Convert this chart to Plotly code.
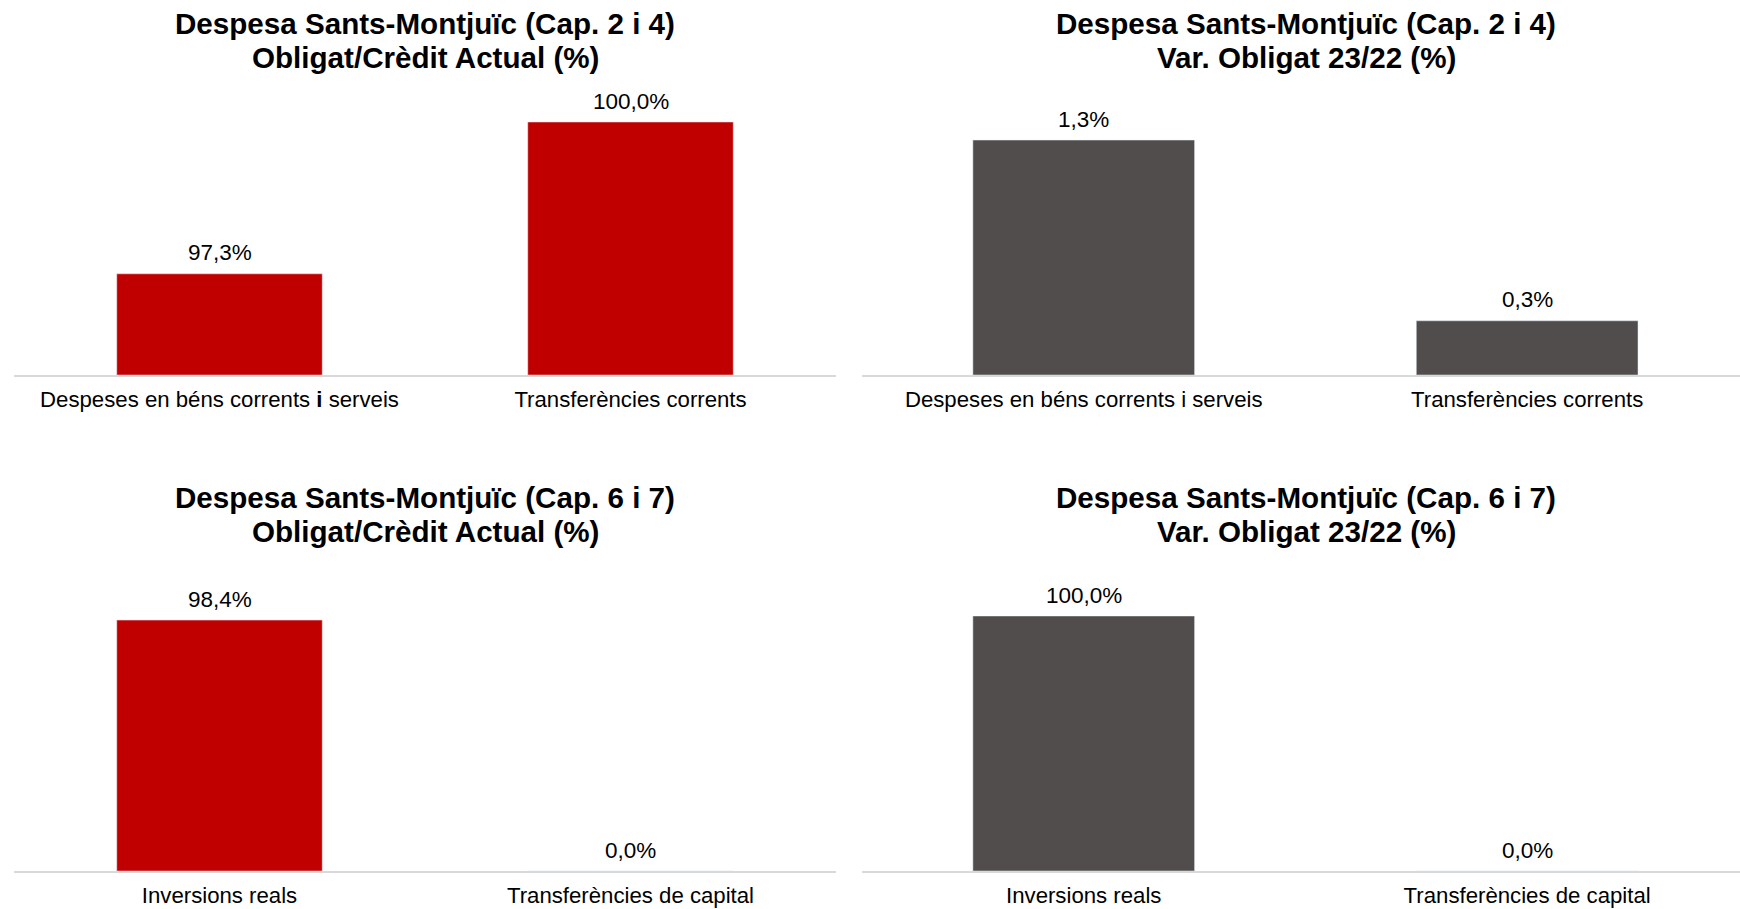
import plotly.graph_objects as go

W, H = 1740, 909

# ---- data ----
cats_top = ["Despeses en béns corrents i serveis", "Transferències corrents"]
cats_bottom = ["Inversions reals", "Transferències de capital"]
obligat_credit_24 = [97.3, 100.0]
var_obligat_24 = [1.3, 0.3]
obligat_credit_67 = [98.4, 0.0]
var_obligat_67 = [100.0, 0.0]

titles = [
    ["Despesa Sants-Montjuïc (Cap. 2 i 4)", "Obligat/Crèdit Actual (%)"],
    ["Despesa Sants-Montjuïc (Cap. 2 i 4)", "Var. Obligat 23/22 (%)"],
    ["Despesa Sants-Montjuïc (Cap. 6 i 7)", "Obligat/Crèdit Actual (%)"],
    ["Despesa Sants-Montjuïc (Cap. 6 i 7)", "Var. Obligat 23/22 (%)"],
]
y_ranges = [[95.5, 100], [0, 1.4], [0, 100], [0, 100]]
x_ranges = [[-0.5, 1.5], [-0.5, 1.48], [-0.5, 1.5], [-0.5, 1.48]]

RED = "#C00000"
GREY = "#504D4C"
FONT = "Liberation Sans, Arial, sans-serif"

panels = [
    (cats_top, obligat_credit_24, RED),
    (cats_top, var_obligat_24, GREY),
    (cats_bottom, obligat_credit_67, RED),
    (cats_bottom, var_obligat_67, GREY),
]

# pixel layout (page coords) of the plot areas (left, right, top, bottom)
boxes = [
    (14, 836, 122, 375),
    (862, 1740, 122, 375),
    (14, 836, 616, 871),
    (862, 1740, 616, 871),
]
title_cx = [425, 1306, 425, 1306]
title_cy = [(24, 58), (24, 58), (497, 531), (497, 531)]

fig = go.Figure()
annotations = []

def fmt(v):
    return f"{v:.1f}".replace(".", ",") + "%"

def px(v):
    return min(max(v / W, 0), 1)

def py(v):
    return min(max(1 - v / H, 0), 1)

for i, ((cats, vals, col), (l, r, t, b)) in enumerate(zip(panels, boxes)):
    n = "" if i == 0 else str(i + 1)
    xa, ya = "x" + n, "y" + n
    base = y_ranges[i][0]
    fig.add_trace(go.Bar(
        x=cats, y=[v - base for v in vals], base=base, marker_color=col,
        width=0.5, xaxis=xa, yaxis=ya, showlegend=False, hoverinfo="skip",
    ))
    ticktext = [c.replace("corrents i serveis", "corrents <b>i</b> serveis") if i == 0 else c for c in cats]
    fig.update_layout(**{
        ("xaxis" + n): dict(
            domain=[px(l), px(r)], anchor=ya, showline=True, linecolor="#D9D9D9",
            linewidth=2, showgrid=False, zeroline=False, ticks="",
            tickmode="array", tickvals=cats, ticktext=ticktext,
            range=x_ranges[i],
            tickfont=dict(family=FONT, size=22.2, color="#000000"),
            ticklabelstandoff=3,
            fixedrange=True,
        ),
        ("yaxis" + n): dict(
            domain=[py(b), py(t)], anchor=xa, range=y_ranges[i],
            showgrid=False, zeroline=False, showticklabels=False, showline=False,
            fixedrange=True,
        ),
    })
    for c, v in zip(cats, vals):
        annotations.append(dict(
            x=c, y=v, xref=xa, yref=ya, text=fmt(v), showarrow=False,
            yanchor="middle", xanchor="center", yshift=21,
            font=dict(family=FONT, size=22.5, color="#000000"),
        ))
    for line, cy in zip(titles[i], title_cy[i]):
        annotations.append(dict(
            x=px(title_cx[i]), y=py(cy), xref="paper", yref="paper",
            text="<b>" + line + "</b>", showarrow=False,
            xanchor="center", yanchor="middle",
            font=dict(family=FONT, size=29.6, color="#000000"),
        ))

fig.update_layout(
    width=W, height=H, margin=dict(l=0, r=0, t=0, b=0),
    paper_bgcolor="white", plot_bgcolor="white",
    annotations=annotations, bargap=0.5,
)

fig.write_html(
    "out.html",
    config={"displayModeBar": False},
    post_script="document.body.style.margin='0px';document.body.style.overflow='hidden';",
)
